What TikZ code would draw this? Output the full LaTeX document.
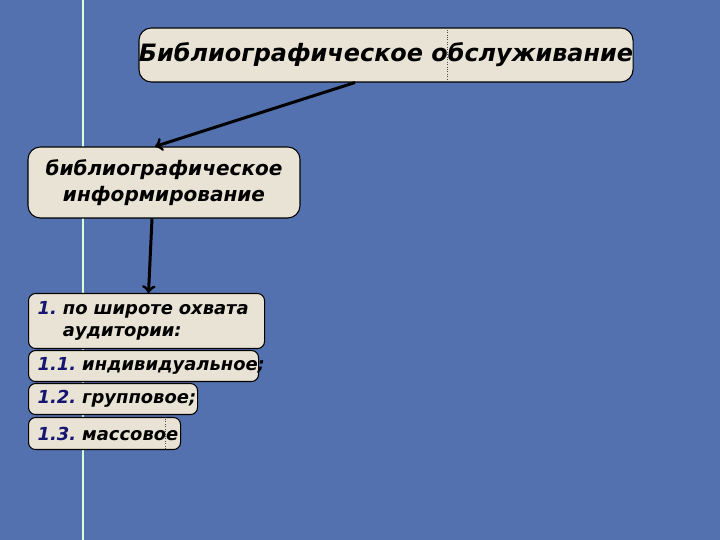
\documentclass[tikz,border=0pt]{standalone}
\usepackage{fontspec}
\setmainfont{DejaVu Sans}
\definecolor{fon}{RGB}{82,113,174}
\definecolor{karta}{RGB}{233,227,213}
\definecolor{nomer}{RGB}{22,22,112}
\tikzset{
  korob/.style={draw=black, fill=karta, rounded corners=7pt, line width=0.6pt,
    font=\bfseries\itshape},
  punkt/.style={korob, rounded corners=4pt, anchor=north west, align=left,
    inner xsep=0.18cm, inner ysep=0pt,
    font=\bfseries\itshape\fontsize{10.2}{12.6}\selectfont},
  strelka/.style={->, line width=1.7pt}
}
\newcommand{\nom}[1]{\textcolor{nomer}{#1}\hspace{3.5pt}}
\begin{document}
\begin{tikzpicture}
        \useasboundingbox (0,0) rectangle (14.4,10.8);
        \fill[fon] (0,0) rectangle (14.4,10.8);
        \draw[white!85!green, line width=0.8pt] (1.66,0) -- (1.66,10.8);

        \node[korob, minimum width=9.84cm, minimum height=1.08cm, inner xsep=0pt,
          font=\bfseries\itshape\fontsize{13.6}{16}\selectfont]
          (obsl) at (7.72, 9.70) {Библиографическое обслуживание};
        \node[korob, minimum width=5.44cm, minimum height=1.42cm, align=center,
          font=\bfseries\itshape\fontsize{11.4}{15}\selectfont]
          (inform) at (3.28, 7.15) {библиографическое\\информирование};

        \node[punkt, text width=4.36cm, minimum height=1.1cm]
          (shir) at (0.56, 4.94)
          {\begin{tabular}{@{}l@{}l@{}}\nom{1.} & по широте охвата\\ & аудитории:\end{tabular}};
        \node[punkt, text width=4.24cm, minimum height=0.62cm]
          (ind) at (0.56, 3.80) {\mbox{\nom{1.1.}индивидуальное;}};
        \node[punkt, text width=3.02cm, minimum height=0.62cm]
          (grup) at (0.56, 3.14) {\mbox{\nom{1.2.}групповое;}};
        \node[punkt, text width=2.68cm, minimum height=0.64cm]
          (mass) at (0.56, 2.46) {\mbox{\nom{1.3.}массовое}};

        \draw[black!70, densely dotted, line width=0.4pt] (8.94,9.16) -- (8.94,10.24);
        \draw[black!70, densely dotted, line width=0.4pt] (3.30,1.82) -- (3.30,2.46);

        \draw[strelka] ([xshift=-0.62cm]obsl.south) to ([xshift=-0.18cm]inform.north);
        \draw[strelka] ([xshift=-0.24cm]inform.south) to ([xshift=0.04cm]shir.north);
      \end{tikzpicture}
\end{document}
